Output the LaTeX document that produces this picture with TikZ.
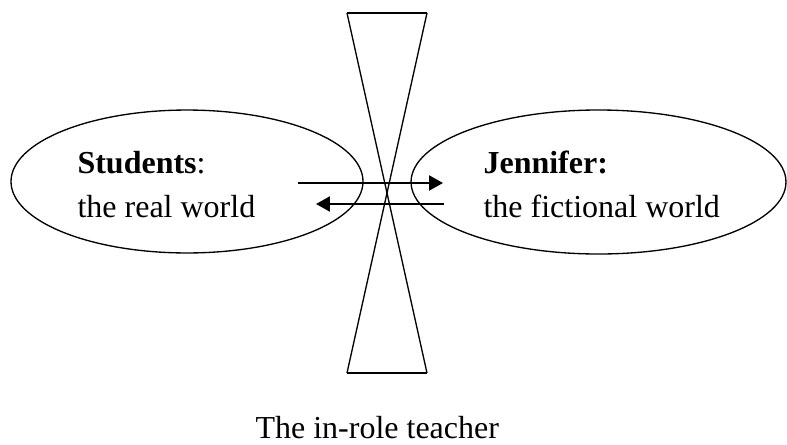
\documentclass[tikz,border=0pt]{standalone}
\usepackage{fontspec}
\setmainfont{Liberation Serif}
\usetikzlibrary{arrows.meta,shapes.geometric}

\begin{document}
\begin{tikzpicture}[x=.375pt,y=.375pt,font=\fontsize{12pt}{14pt}\selectfont,
    world/.style={draw,ellipse,line width=.5pt,inner sep=0pt},
    worldtext/.style={anchor=base west,inner sep=0pt},
    link/.style={line width=.8pt,-{Triangle[length=5.2pt,width=5.6pt]}}]
    \useasboundingbox (0,0) rectangle (787,444);
    % the in-role teacher
    \coordinate (tl) at (347,431);
    \coordinate (tr) at (427,431);
    \coordinate (bl) at (347,71);
    \coordinate (br) at (427,71);
    \draw[line width=.5pt] (tl) -- (br);
    \draw[line width=.5pt] (tr) -- (bl);
    \draw[line width=.8pt] (tl) -- (tr);
    \draw[line width=.8pt] (bl) -- (br);
    % the two worlds
    \node[world,minimum width=132pt,minimum height=53.6pt] (real) at (187,262.5) {};
    \node[world,minimum width=140.6pt,minimum height=54pt] (fiction) at (598.5,262) {};
    \node[worldtext] (stu) at (77,271) {\textbf{Students}:};
    \node[worldtext] (stuworld) at (77,227) {the real world};
    \node[worldtext] (jen) at (483,271) {\textbf{Jennifer:}};
    \node[worldtext] (jenworld) at (483,227) {the fictional world};
    % arrows
    \coordinate (go1) at (298,261);
    \coordinate (go2) at (443,261);
    \coordinate (back1) at (444,240);
    \coordinate (back2) at (316,240);
    \draw[link] (go1) -- (go2);
    \draw[link] (back1) -- (back2);
    \node[worldtext] (teacher) at (255,6) {The in-role teacher};
\end{tikzpicture}
\end{document}
